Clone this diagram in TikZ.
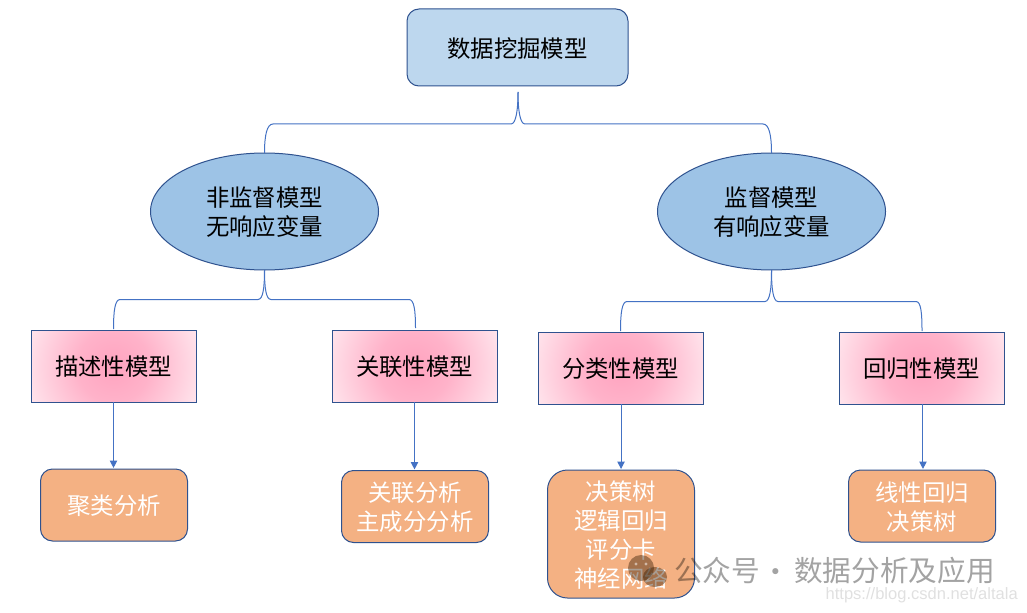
\documentclass[tikz,border=0pt]{standalone}
\usepackage{fontspec}
\setmainfont{Noto Sans CJK SC}
\newfontfamily\urlfont{Liberation Sans}
\usetikzlibrary{shapes.geometric,arrows.meta}
\definecolor{linkblue}{HTML}{4472C4}
\definecolor{edgeblue}{HTML}{2F528F}
\definecolor{rootfill}{HTML}{BDD7EE}
\definecolor{ellfill}{HTML}{9DC3E6}
\definecolor{orangefill}{HTML}{F4B183}
\definecolor{pinkA}{rgb}{1,0.64,0.75}
\definecolor{pinkB}{rgb}{1,0.70,0.79}
\definecolor{pinkC}{rgb}{1,0.80,0.86}
\definecolor{pinkD}{rgb}{1,0.90,0.93}
\pgfdeclareradialshading{pinkglow}{\pgfpoint{0bp}{0bp}}{%
  color(0bp)=(pinkA);
  color(10bp)=(pinkB);
  color(17.5bp)=(pinkC);
  color(25bp)=(pinkD);
  color(50bp)=(pinkD)}
\newcommand\dl[1]{\raisebox{-0.75pt}[\height][\depth]{#1}}
\tikzset{
  x=0.75pt,y=-0.75pt,
  txt/.style={font=\fontsize{17.55}{21.6}\selectfont,align=center,text=black,inner sep=0pt},
  sized/.style 2 args={minimum width=#1*0.75pt,minimum height=#2*0.75pt,outer sep=0pt},
  rootbox/.style={txt,draw=edgeblue,line width=0.75pt,fill=rootfill,rounded corners=9pt},
  ellbox/.style={txt,ellipse,draw=edgeblue,line width=0.75pt,fill=ellfill},
  pinkbox/.style={txt,rectangle,draw=edgeblue,line width=0.75pt,fill=white,
    path picture={\shade[shading=pinkglow] (path picture bounding box.center) circle[radius=91];}},
  leafbox/.style={txt,text=white,draw=edgeblue,line width=0.75pt,fill=orangefill,rounded corners=9pt},
  conn/.style={draw=linkblue,line width=0.75pt},
  arrowconn/.style={conn,-{Triangle[width=5.5pt,length=5.5pt]},shorten >=0.8pt},
  wmtext/.style={anchor=west,inner sep=0pt,text=black,opacity=0.36,font=\fontsize{21.5}{25}\selectfont}
}
\begin{document}
\begin{tikzpicture}
\useasboundingbox (0,0) rectangle (1027,613);
\fill[white] (0,0) rectangle (1027,613);

\node[rootbox,sized={221}{77}] (root) at (517.5,47.5) {\dl{数据挖掘模型}};
\node[ellbox,sized={228}{117}] (unsup) at (264.5,211.5) {\dl{非监督模型}\\\dl{无响应变量}};
\node[ellbox,sized={228}{117}] (sup) at (771.5,211.5) {\dl{监督模型}\\\dl{有响应变量}};

\node[pinkbox,sized={165}{72}] (desc) at (113.5,366) {\dl{描述性模型}};
\node[pinkbox,sized={165}{72}] (assoc) at (414.5,366) {\dl{关联性模型}};
\node[pinkbox,sized={165}{72}] (cls) at (620.5,368) {\dl{分类性模型}};
\node[pinkbox,sized={165}{72}] (reg) at (921.5,368) {\dl{回归性模型}};

\node[leafbox,sized={147}{72}] (cluster) at (114,505) {\dl{聚类分析}};
\node[leafbox,sized={147}{72}] (assocleaf) at (415,506.5) {\dl{关联分析}\\\dl{主成分分析}};
\node[leafbox,sized={147}{128},rounded corners=15pt] (clsleaf) at (621,534) {\dl{决策树}\\\dl{逻辑回归}\\\dl{评分卡}\\\dl{神经网络}};
\node[leafbox,sized={147}{72}] (regleaf) at (922,506) {\dl{线性回归}\\\dl{决策树}};

% brace apex and shoulder points
\coordinate (ta) at (518,92);
\coordinate (tl) at (511,124);
\coordinate (tr) at (525,124);
\coordinate (tel) at (273,124);
\coordinate (ter) at (763,124);
\coordinate (ll) at (258,299.5);
\coordinate (lr) at (271,299.5);
\coordinate (lel) at (120,299.5);
\coordinate (ler) at (409,299.5);
\coordinate (ltl) at (113.5,329);
\coordinate (ltr) at (415.5,328);
\coordinate (rl) at (765,301.5);
\coordinate (rr) at (778,301.5);
\coordinate (rel) at (627,301.5);
\coordinate (rer) at (916,301.5);
\coordinate (rtl) at (620.5,331);
\coordinate (rtr) at (922,331);

\draw[conn] (unsup.north) .. controls +(0,-18) and +(-6,0) .. (tel) -- (tl)
  .. controls +(5,0) and +(0,18) .. (ta);
\draw[conn] (sup.north) .. controls +(0,-18) and +(6,0) .. (ter) -- (tr)
  .. controls +(-5,0) and +(0,18) .. (ta);
\draw[conn] (ltl) .. controls +(0,-18) and +(-5,0) .. (lel) -- (ll)
  .. controls +(5,0) and +(0,18) .. (unsup.south);
\draw[conn] (ltr) .. controls +(0,-18) and +(5,0) .. (ler) -- (lr)
  .. controls +(-5,0) and +(0,18) .. (unsup.south);
\draw[conn] (rtl) .. controls +(0,-18) and +(-5,0) .. (rel) -- (rl)
  .. controls +(5,0) and +(0,18) .. (sup.south);
\draw[conn] (rtr) .. controls +(0,-18) and +(5,0) .. (rer) -- (rr)
  .. controls +(-5,0) and +(0,18) .. (sup.south);

\draw[arrowconn] (desc.south) -- (desc.south |- cluster.north);
\draw[arrowconn] (assoc.south) -- (assoc.south |- assocleaf.north);
\draw[arrowconn] ([xshift=0.4pt]cls.south) -- ([xshift=0.4pt]cls.south |- clsleaf.north);
\draw[arrowconn] ([xshift=1.1pt]reg.south) -- ([xshift=1.1pt]reg.south |- regleaf.north);

% watermark
\begin{scope}[opacity=0.42]
  \fill[black!80!orange] (641,568) circle[radius=13];
  \fill[black!80!orange] (655,577) ellipse[x radius=12,y radius=10];
\end{scope}
\fill[white,opacity=0.5] (636,564) circle[radius=1.7] (646,564) circle[radius=1.7];
\node[wmtext] (wma) at (674,571) {公众号};
\node[wmtext] (wmb) at (761,576) {·};
\node[wmtext] (wmc) at (794,571) {数据分析及应用};
\node[anchor=east,inner sep=0pt,text=black,opacity=0.12,font=\urlfont\fontsize{12.4}{15}\selectfont] (wmurl) at (1018,595) {https://blog.csdn.net/altala};
\end{tikzpicture}
\end{document}
